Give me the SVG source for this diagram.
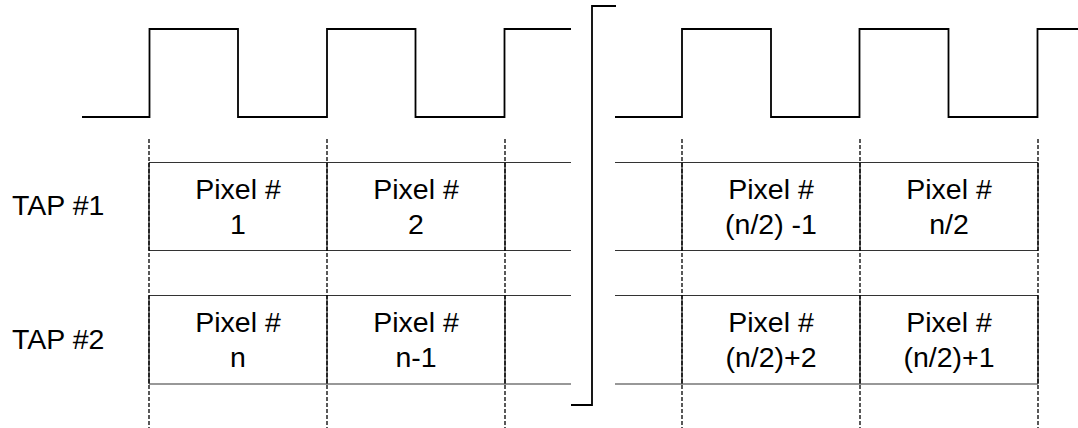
<svg xmlns="http://www.w3.org/2000/svg" width="1078" height="428" viewBox="0 0 1078 428">
<style>
.clk{fill:none;stroke:#000;stroke-width:1.8}
.hl{stroke:#333;stroke-width:1.2}
.sv{stroke:#111;stroke-width:1.2}
.dv{stroke:#000;stroke-width:1.3;stroke-dasharray:4 2}
.br{fill:none;stroke:#000;stroke-width:1.8}
text{font-family:"Liberation Sans",Arial,sans-serif;font-size:28.5px;fill:#000}
.c{text-anchor:middle}
</style>
<rect width="1078" height="428" fill="#fff"/>
<g id="clock-left">
<polyline class="clk" points="82,117 149.5,117 149.5,29 238,29 238,117 327,117 327,29 415.5,29 415.5,117 504.5,117 504.5,29 571,29"/>
</g>
<g id="clock-right">
<polyline class="clk" points="615,117 682,117 682,29 771,29 771,117 859.5,117 859.5,29 948.5,29 948.5,117 1037.5,117 1037.5,29 1078,29"/>
</g>
<g id="break">
<polyline class="br" points="616,6 592,6 592,405 571,405"/>
</g>
<g id="connectors">
<line class="hl" x1="149" y1="162.5" x2="571" y2="162.5"/>
<line class="hl" x1="149" y1="250.5" x2="571" y2="250.5"/>
<line class="hl" x1="149" y1="295.5" x2="571" y2="295.5"/>
<line class="hl" x1="149" y1="384" x2="571" y2="384"/>
<line class="hl" x1="615" y1="162.5" x2="1038" y2="162.5"/>
<line class="hl" x1="615" y1="250.5" x2="1038" y2="250.5"/>
<line class="hl" x1="615" y1="295.5" x2="1038" y2="295.5"/>
<line class="hl" x1="615" y1="384" x2="1038" y2="384"/>
<path class="sv" d="M149,162.5V250.5M327,162.5V250.5M505,162.5V250.5M149,295.5V384M327,295.5V384M505,295.5V384M682,162.5V250.5M860,162.5V250.5M1038,162.5V250.5M682,295.5V384M860,295.5V384M1038,295.5V384"/>
<path class="dv" d="M149,139V428M327,139V428M505,139V428M682,139V428M860,139V428M1038,139V428"/>
</g>
<g id="tap1"><text x="12" y="215">TAP #1</text></g>
<g id="tap2"><text x="12" y="348.5">TAP #2</text></g>
<g id="p1"><text class="c" x="238" y="198.5">Pixel #</text><text class="c" x="238" y="233.5">1</text></g>
<g id="p2"><text class="c" x="416" y="198.5">Pixel #</text><text class="c" x="416" y="233.5">2</text></g>
<g id="pn2m1"><text class="c" x="771" y="198.5">Pixel #</text><text class="c" x="771" y="233.5">(n/2) -1</text></g>
<g id="pn2"><text class="c" x="949" y="198.5">Pixel #</text><text class="c" x="949" y="233.5">n/2</text></g>
<g id="pn"><text class="c" x="238" y="331.5">Pixel #</text><text class="c" x="238" y="366.5">n</text></g>
<g id="pnm1"><text class="c" x="416" y="331.5">Pixel #</text><text class="c" x="416" y="366.5">n-1</text></g>
<g id="pn2p2"><text class="c" x="771" y="331.5">Pixel #</text><text class="c" x="771" y="366.5">(n/2)+2</text></g>
<g id="pn2p1"><text class="c" x="949" y="331.5">Pixel #</text><text class="c" x="949" y="366.5">(n/2)+1</text></g>
</svg>
